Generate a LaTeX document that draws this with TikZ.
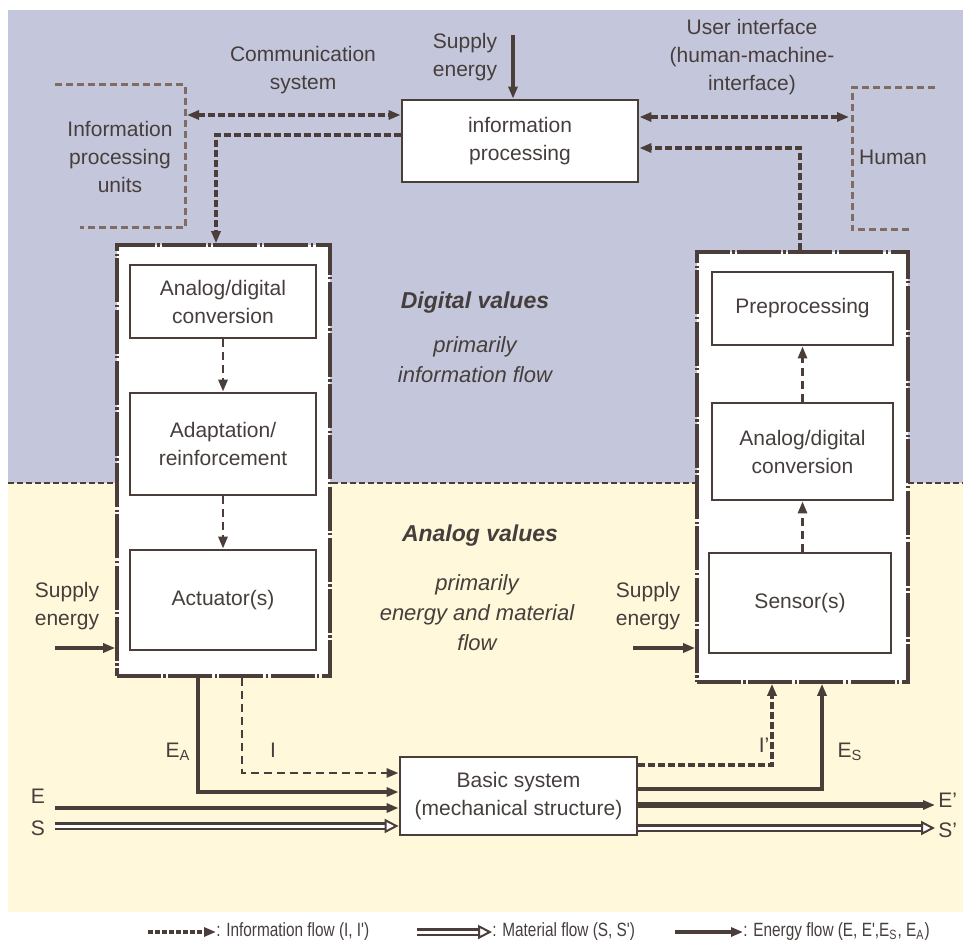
\documentclass[tikz,border=0pt]{standalone}
\usepackage{fontspec}
\setmainfont{Liberation Sans}
\newfontfamily\legendfont[FakeStretch=0.8]{Liberation Sans}
\usetikzlibrary{arrows.meta}

\definecolor{bgblue}{RGB}{196,199,219}
\definecolor{bgyellow}{RGB}{255,248,218}
\definecolor{linecol}{RGB}{75,62,58}
\definecolor{brackcol}{RGB}{128,108,98}
\definecolor{txtcol}{RGB}{70,62,60}

\begin{document}
\begin{tikzpicture}[x=0.5pt, y=-0.5pt, text=txtcol,
    lbl/.style={align=center, inner sep=0pt, font=\fontsize{10.5}{14}\selectfont},
    itlbl/.style={lbl, font=\fontsize{11}{15}\selectfont\itshape},
    bflbl/.style={lbl, font=\fontsize{11.5}{15}\selectfont\bfseries\itshape},
    legend/.style={inner sep=0pt, font=\fontsize{9.6}{11}\legendfont},
    box/.style={lbl, draw=linecol, line width=1.4pt, fill=white},
    outerbox/.style={draw=linecol, line width=1.8pt, fill=white,
      dash pattern=on 22pt off 1.2pt on 1.2pt off 1.2pt},
    info/.style={draw=linecol, line width=1.8pt, dash pattern=on 3.5pt off 1.5pt},
    infothin/.style={draw=linecol, line width=1.4pt, dash pattern=on 4pt off 2.5pt},
    energy/.style={draw=linecol, line width=1.8pt},
    material/.style={draw=linecol, double=white, double distance=1.5pt, line width=1.3pt, shorten >=6pt},
    mattip/.style={draw=linecol, line width=1pt, -{Triangle[length=7pt,width=7pt,fill=white]}},
    bracket/.style={draw=brackcol, line width=1.5pt, dash pattern=on 3.5pt off 2pt},
    divider/.style={draw=linecol, line width=1pt, dash pattern=on 3pt off 1.5pt},
    arr/.style={-{Triangle[length=6pt,width=4.5pt]}},
    arrs/.style={{Triangle[length=6pt,width=4.5pt]}-{Triangle[length=6pt,width=4.5pt]}},
  ]
  \useasboundingbox (0,0) rectangle (963,952);

  % background: digital / analog half
  \fill[bgblue] (8,10) rectangle (963,483);
  \fill[bgyellow] (8,483) rectangle (963,912);
  \draw[divider] (8,483) -- (963,483);

  % boxes
  \node[box, minimum width=118pt, minimum height=41pt] (proc) at (520,141) {information\\processing};
  \node[outerbox, minimum width=106.5pt, minimum height=215.5pt] (lout) at (223.5,460.5) {};
  \node[outerbox, minimum width=105.5pt, minimum height=215pt] (rout) at (802.5,467) {};
  \node[box, minimum width=93pt, minimum height=36.5pt] (adc) at (223,301.5) {Analog/digital\\conversion};
  \node[box, minimum width=93pt, minimum height=51pt] (adapt) at (223,444) {Adaptation/\\reinforcement};
  \node[box, minimum width=93pt, minimum height=50pt] (act) at (223,600) {Actuator(s)};
  \node[box, minimum width=90.5pt, minimum height=36.5pt] (pre) at (802.5,308.5) {Preprocessing};
  \node[box, minimum width=90.5pt, minimum height=48.5pt] (adcr) at (802.5,451.5) {Analog/digital\\conversion};
  \node[box, minimum width=91pt, minimum height=50pt] (sens) at (800,603) {Sensor(s)};
  \node[box, minimum width=118.5pt, minimum height=39pt] (basic) at (518.5,796) {Basic system\\(mechanical structure)};

  % texts
  \node[lbl] (suptop) at (465,57) {Supply\\energy};
  \node[lbl] (comm) at (303,70) {Communication\\system};
  \node[lbl] (ui) at (752,57) {User interface\\(human-machine-\\interface)};
  \node[lbl] (ipu) at (120,157) {Information\\processing\\units};
  \node[lbl] (human) at (893,157) {Human};
  \node[bflbl] (digital) at (475,303) {Digital values};
  \node[itlbl] (digflow) at (475,360) {primarily\\information flow};
  \node[bflbl] (analog) at (480,536) {Analog values};
  \node[itlbl] (anaflow) at (477,613) {primarily\\energy and material\\flow};
  \node[lbl] (supleft) at (67,606) {Supply\\energy};
  \node[lbl] (supright) at (648,606) {Supply\\energy};

  % other units
  \draw[bracket] (55,85) -- (185,85) -- (185,228) -- (80,228);
  \draw[bracket] (935,88) -- (852,88) -- (852,230) -- (910,230);

  % information processing connections
  \coordinate (cs) at (187,115);
  \coordinate (hm) at (849,117);
  \coordinate (c1) at (216,135);
  \coordinate (c2) at (800,148);
  \coordinate (se) at (513,35);
  \draw[info, arrs] (cs) -- (proc.west |- cs);
  \draw[info, arrs] (proc.east |- hm) -- (hm);
  \draw[info, arr] (proc.west |- c1) -| (lout.north -| c1);
  \draw[info, arr] (rout.north -| c2) |- (proc.east |- c2);
  \draw[energy, arr] (se) -- (proc.north -| se);

  % inside actuator / sensor side
  \draw[infothin, arr] (adc.south) -- (adapt.north);
  \draw[infothin, arr] (adapt.south) -- (act.north);
  \draw[infothin, arr] (sens.north -| adcr.south) -- (adcr.south);
  \draw[infothin, arr] (adcr.north) -- (pre.south);

  \coordinate (sl) at (55,648);
  \coordinate (sr) at (633,648);
  \draw[energy, arr] (sl) -- (lout.west |- sl);
  \draw[energy, arr] (sr) -- (rout.west |- sr);

  % basic system
  \coordinate (ci) at (242,773);
  \coordinate (cea) at (198,792);
  \coordinate (ce) at (55,808);
  \coordinate (cs2) at (55,826);
  \coordinate (cip) at (772,765);
  \coordinate (ces) at (822,789);
  \coordinate (cep) at (935,805);
  \coordinate (csp) at (935,828);
  \coordinate (msin) at (basic.west |- cs2);
  \draw[infothin, arr] (lout.south -| ci) |- (basic.west |- ci);
  \draw[energy, arr] (lout.south -| cea) |- (basic.west |- cea);
  \draw[energy, arr] (ce) -- (basic.west |- ce);
  \draw[material] (cs2) -- (msin);
  \draw[mattip] ([xshift=-3pt]msin) -- (msin);
  \draw[info, arr] (basic.east |- cip) -| (rout.south -| cip);
  \draw[energy, arr] (basic.east |- ces) -| (rout.south -| ces);
  \draw[energy, line width=2.6pt, arr] (basic.east |- cep) -- (cep);
  \draw[material] (basic.east |- csp) -- (csp);
  \draw[mattip] ([xshift=-3pt]csp) -- (csp);

  \node[lbl] (lea) at (178,752) {E\textsubscript{A}};
  \node[lbl] (li) at (273,750) {I};
  \node[lbl] (lip) at (764,745) {I'};
  \node[lbl] (les) at (850,752) {E\textsubscript{S}};
  \node[lbl] (le) at (38,796) {E};
  \node[lbl] (ls) at (38,828) {S};
  \node[lbl, anchor=west] (lep) at (938,800) {E'};
  \node[lbl, anchor=west] (lsp) at (938,830) {S'};

  % legend
  \coordinate (lg1) at (148,932);
  \coordinate (lg2) at (417,932);
  \coordinate (lg3) at (675,932);
  \node[legend, anchor=west] (lginfo) at (216,932) {: Information flow (I, I')};
  \node[legend, anchor=west] (lgmat) at (492,932) {: Material flow (S, S')};
  \node[legend, anchor=west] (lgen) at (743,932) {: Energy flow (E, E',E\textsubscript{S}, E\textsubscript{A})};
  \draw[info, dash pattern=on 2.5pt off 1pt, arr] (lg1) -- (lginfo.west);
  \draw[material] (lg2) -- (lgmat.west);
  \draw[mattip] ([xshift=-3pt]lgmat.west) -- (lgmat.west);
  \draw[energy, arr] (lg3) -- (lgen.west);
\end{tikzpicture}
\end{document}
